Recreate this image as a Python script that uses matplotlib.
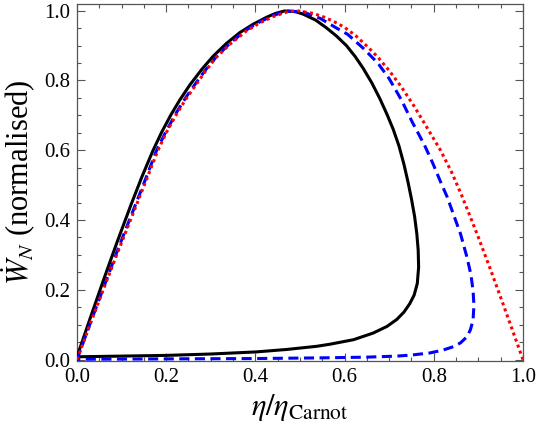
import matplotlib
matplotlib.use("Agg")
import matplotlib.pyplot as plt
from matplotlib.ticker import MultipleLocator, FormatStrFormatter

# values (eta/eta_Carnot, normalised power)
black_x = [0.000, 0.030, 0.060, 0.090, 0.120, 0.145, 0.170, 0.190, 0.210, 0.230, 0.253,
           0.280, 0.305, 0.335, 0.365, 0.395, 0.425, 0.445, 0.465, 0.490,
           0.507, 0.535, 0.559, 0.582, 0.604, 0.624, 0.642, 0.661, 0.679, 0.695, 0.709,
           0.722, 0.733, 0.742, 0.750, 0.757, 0.762, 0.765, 0.766, 0.763, 0.756, 0.746,
           0.733, 0.717, 0.695, 0.664, 0.620, 0.567, 0.537, 0.470, 0.402, 0.300, 0.200,
           0.100, 0.000]
black_y = [0.008, 0.120, 0.230, 0.337, 0.440, 0.522, 0.598, 0.652, 0.700, 0.743, 0.787,
           0.832, 0.869, 0.906, 0.937, 0.961, 0.981, 0.992, 0.999, 0.997,
           0.990, 0.973, 0.951, 0.927, 0.900, 0.868, 0.834, 0.793, 0.748, 0.703, 0.660,
           0.612, 0.560, 0.510, 0.460, 0.410, 0.360, 0.314, 0.265, 0.218, 0.185, 0.160,
           0.136, 0.115, 0.095, 0.076, 0.057, 0.044, 0.038, 0.029, 0.022, 0.016, 0.012,
           0.010, 0.008]

blue_x = [0.000, 0.030, 0.060, 0.090, 0.120, 0.150, 0.178, 0.200, 0.223, 0.245, 0.268,
          0.290, 0.312, 0.345, 0.380, 0.410, 0.440, 0.470,
          0.507, 0.545, 0.582, 0.607, 0.642, 0.675, 0.700, 0.727, 0.752, 0.779, 0.798,
          0.815, 0.830, 0.843, 0.860, 0.874, 0.883, 0.888, 0.890, 0.888, 0.882, 0.874,
          0.860, 0.844, 0.820, 0.791, 0.750, 0.717, 0.650, 0.550, 0.400, 0.200, 0.000]
blue_y = [0.000, 0.105, 0.208, 0.310, 0.408, 0.505, 0.598, 0.655, 0.708, 0.753, 0.795,
          0.833, 0.867, 0.909, 0.945, 0.968, 0.986, 0.999,
          0.996, 0.978, 0.950, 0.932, 0.892, 0.849, 0.805, 0.745, 0.680, 0.615, 0.562,
          0.510, 0.466, 0.420, 0.360, 0.295, 0.245, 0.199, 0.155, 0.113, 0.085, 0.065,
          0.048, 0.037, 0.027, 0.019, 0.013, 0.010, 0.007, 0.005, 0.003, 0.002, 0.001]

red_x = [0.000, 0.030, 0.060, 0.090, 0.120, 0.150, 0.181, 0.200, 0.223, 0.245, 0.268,
         0.290, 0.312, 0.345, 0.380, 0.410, 0.440, 0.470, 0.492,
         0.530, 0.555, 0.577, 0.600, 0.625, 0.652, 0.675, 0.700, 0.727, 0.755, 0.787,
         0.815, 0.840, 0.862, 0.880, 0.900, 0.926, 0.956, 0.980, 1.000]
red_y = [0.000, 0.103, 0.204, 0.303, 0.400, 0.497, 0.598, 0.650, 0.703, 0.748, 0.790,
         0.830, 0.866, 0.906, 0.942, 0.965, 0.983, 0.996, 1.000,
         0.992, 0.981, 0.968, 0.952, 0.928, 0.896, 0.866, 0.828, 0.782, 0.728, 0.660,
         0.600, 0.537, 0.472, 0.415, 0.350, 0.262, 0.157, 0.071, 0.000]

x_ticks = [0.0, 0.2, 0.4, 0.6, 0.8, 1.0]
y_ticks = [0.0, 0.2, 0.4, 0.6, 0.8, 1.0]

plt.rcParams['font.family'] = ['Liberation Serif', 'DejaVu Serif']
plt.rcParams['mathtext.fontset'] = 'stix'

fig = plt.figure(figsize=(5.38, 4.30), dpi=100)
ax = fig.add_axes([0.1431, 0.1605, 0.8290, 0.8302])

ax.plot(black_x, black_y, color='black', lw=2.2, solid_joinstyle='round', zorder=3)
ax.plot(blue_x, blue_y, color='blue', lw=2.2, linestyle=(0, (3.3, 1.8)), zorder=4)
ax.plot(red_x, red_y, color='red', lw=2.2, linestyle=(0, (1, 1.1)), zorder=5)

ax.set_xlim(0, 1.0)
ax.set_ylim(-0.004, 1.019)
ax.set_xticks(x_ticks)
ax.set_yticks(y_ticks)
ax.xaxis.set_minor_locator(MultipleLocator(0.05))
ax.yaxis.set_minor_locator(MultipleLocator(0.05))
ax.xaxis.set_major_formatter(FormatStrFormatter('%.1f'))
ax.yaxis.set_major_formatter(FormatStrFormatter('%.1f'))

ax.tick_params(which='both', direction='in', top=True, right=True,
               color='#555555', width=0.8, labelsize=15)
ax.tick_params(which='major', length=5.5, pad=5)
ax.tick_params(which='minor', length=3)
for s in ax.spines.values():
    s.set_color('#555555')
    s.set_linewidth(0.9)

ax.set_xlabel(r'$\eta/\eta_{\mathrm{Carnot}}$', fontsize=22, labelpad=4)
ax.set_ylabel(r'$\dot{W}_N$ (normalised)', fontsize=22, labelpad=4)

fig.savefig('out.png', dpi=100)
